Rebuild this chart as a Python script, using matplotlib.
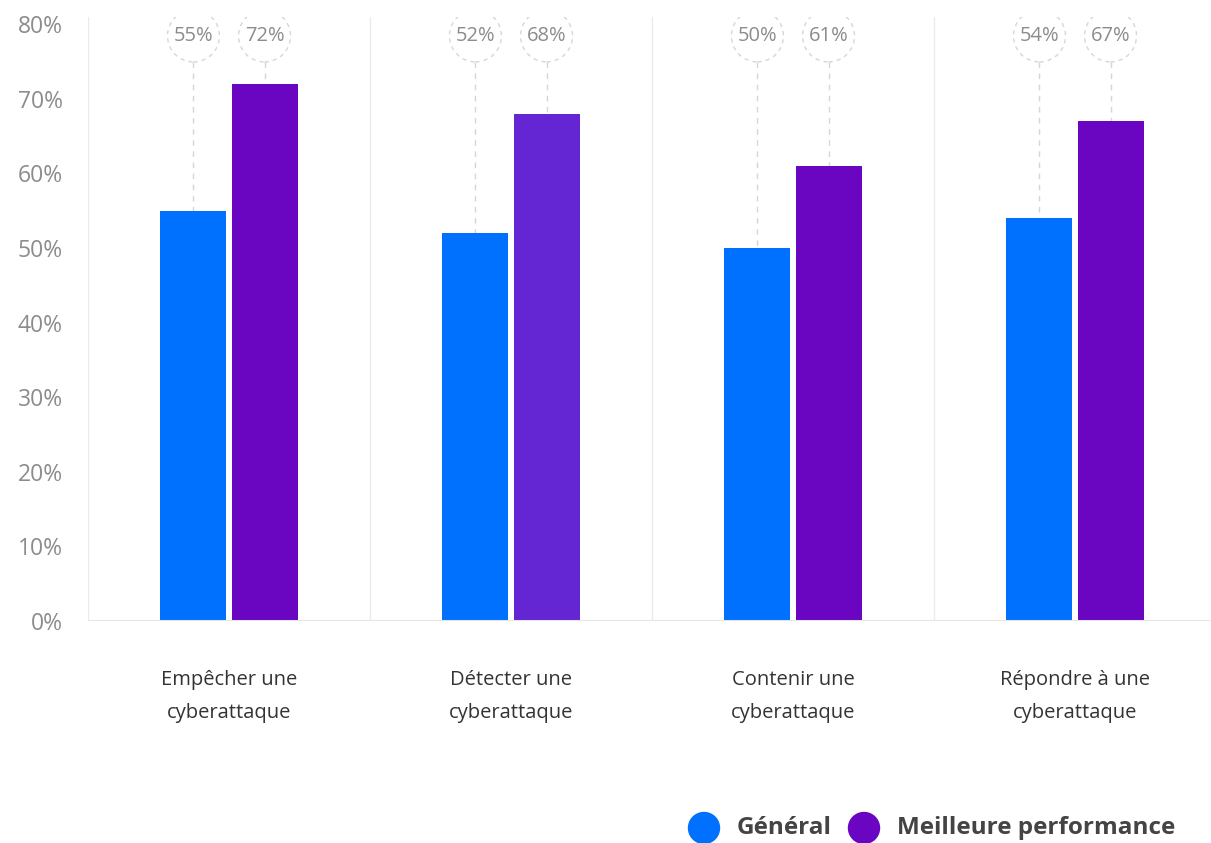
import numpy as np
import matplotlib.pyplot as plt
from matplotlib.patches import Ellipse, Circle

plt.rcParams['font.family'] = ['Open Sans', 'DejaVu Sans']

categories = ["Empêcher une\ncyberattaque", "Détecter une\ncyberattaque",
              "Contenir une\ncyberattaque", "Répondre à une\ncyberattaque"]
general = [55, 52, 50, 54]
best = [72, 68, 61, 67]
series_names = ["Général", "Meilleure performance"]

blue = "#0070ff"
purple = ["#6a05c2", "#6326d2", "#6a05c2", "#6a05c2"]
grid_c = "#ebebeb"
label_c = "#8c8c8c"

fig = plt.figure(figsize=(12.11, 8.43), dpi=100)
ax = fig.add_axes([88/1211, 1-621/843, 1128/1211, 604/843])

x = np.arange(len(categories))
w = 0.234
off = 0.126
ax.bar(x - off, general, width=w, color=blue, zorder=2)
ax.bar(x + off, best, width=w, color=purple, zorder=2)

ax.set_xlim(-0.5, 3.5)
ax.set_ylim(0, 80 * 604 / 597)

# column separators
for s in np.arange(-0.5, 3.0, 1.0):
    ax.axvline(s, color=grid_c, lw=1, zorder=0)
ax.axhline(0, color="#e6e6e6", lw=2.2, zorder=3)

# value bubbles with dashed leaders down to the bars
px_x = 282.0
px_y = 597 / 80
cy = 78.4
rx = 26 / px_x
ry = 26 / px_y
for xs, vals in ((x - off, general), (x + off, best)):
    for xi, v in zip(xs, vals):
        ax.add_patch(Ellipse((xi, cy), 2 * rx, 2 * ry, fill=False,
                             ec="#d6d6d6", lw=1, ls=(0, (3, 3)), zorder=1))
        ax.plot([xi, xi], [cy - ry, v], color="#d6d6d6", lw=1,
                ls=(0, (4, 4)), zorder=1)
        ax.text(xi, cy + 0.05, f"{v}%", ha="center", va="center",
                fontsize=14.5, color=label_c, zorder=4)

for side in ax.spines.values():
    side.set_visible(False)

ax.set_yticks(np.arange(0, 81, 10))
ax.set_yticklabels([f"{t}%" for t in range(0, 81, 10)])
ax.tick_params(axis="y", length=0, pad=18, labelsize=16.5, labelcolor=label_c)
ax.set_xticks(x)
ax.set_xticklabels(categories, linespacing=1.9)
ax.tick_params(axis="x", length=0, pad=35, labelsize=14.5, labelcolor="#333333")

# legend
colors = [blue, purple[0]]
cxs = [7.04, 8.64]
for cx, col, name in zip(cxs, colors, series_names):
    fig.add_artist(Circle((cx, 0.15), 0.155, color=col,
                          transform=fig.dpi_scale_trans))
    fig.text(cx + 0.33, 0.15, name, transform=fig.dpi_scale_trans,
             ha="left", va="center", fontsize=17.5, fontweight="bold",
             color="#444444")

fig.savefig("out.png", dpi=100)
